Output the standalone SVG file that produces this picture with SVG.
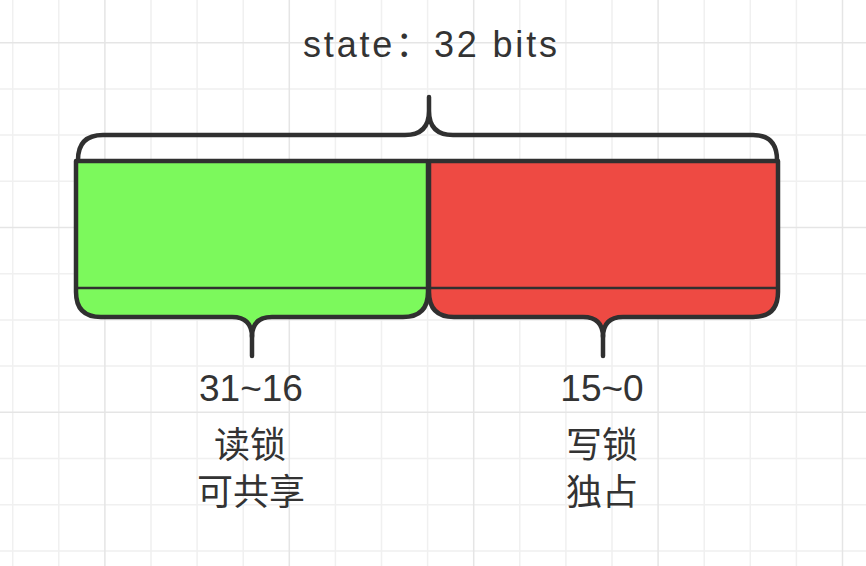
<svg xmlns="http://www.w3.org/2000/svg" width="866" height="566" viewBox="0 0 866 566">
<style>
.minor{stroke:#f0f0f0;stroke-width:1.5;fill:none}
.major{stroke:#e5e5e5;stroke-width:1.5;fill:none}
.blk{stroke:#303030;stroke-width:4.5;stroke-linejoin:round}
.ln{stroke:#303030;stroke-width:4.5;fill:none;stroke-linecap:round;stroke-linejoin:round}
.thin{stroke:#303030;stroke-width:2.5;fill:none}
text{font-family:"Liberation Sans","Noto Sans CJK SC",sans-serif;fill:#333333;text-anchor:middle}
.cjk{font-family:"Noto Sans CJK SC",sans-serif}
</style>
<rect width="866" height="566" fill="#ffffff"/>
<g id="grid">
<path class="minor" d="M12.7,0V566M58.8,0V566M151,0V566M197.1,0V566M243.2,0V566M335.4,0V566M381.5,0V566M427.6,0V566M519.8,0V566M565.9,0V566M612,0V566M704.2,0V566M750.3,0V566M796.4,0V566M0,88.9H866M0,135.1H866M0,181.3H866M0,273.7H866M0,319.9H866M0,366.1H866M0,458.5H866M0,504.7H866M0,550.9H866"/>
<path class="major" d="M104.9,0V566M289.3,0V566M473.7,0V566M658.1,0V566M842.5,0V566M0,42.7H866M0,227.5H866M0,412.3H866"/>
</g>
<g id="read-lock">
<path class="blk" fill="#7CF95C" d="M76,161H428V292Q428,317 403,317H272Q252,317 252,337Q252,317 232,317H101Q76,317 76,292Z"/>
<path class="thin" d="M76,288H428"/>
<path class="ln" d="M252,335V356"/>
</g>
<g id="write-lock">
<path class="blk" fill="#EE4A43" d="M429,161H778V292Q778,317 753,317H623Q603,317 603,337Q603,317 583,317H454Q429,317 429,292Z"/>
<path class="thin" d="M429,288H778"/>
<path class="ln" d="M603,335V356"/>
</g>
<g id="connectors">
<path class="ln" d="M78,160Q78,135 103,135H405Q429,135 429,111V97M429,111Q429,135 453,135H753Q777,135 777,160"/>
</g>
<g id="title">
<text x="430" y="57" font-size="36" textLength="254" lengthAdjust="spacing">state：32 bits</text>
</g>
<g id="label-read">
<text x="251" y="401" font-size="37">31~16</text>
<text class="cjk" x="250" y="458" font-size="36">读锁</text>
<text class="cjk" x="251" y="505" font-size="36">可共享</text>
</g>
<g id="label-write">
<text x="602" y="401" font-size="37">15~0</text>
<text class="cjk" x="602" y="458" font-size="36">写锁</text>
<text class="cjk" x="602" y="505" font-size="36">独占</text>
</g>
</svg>
